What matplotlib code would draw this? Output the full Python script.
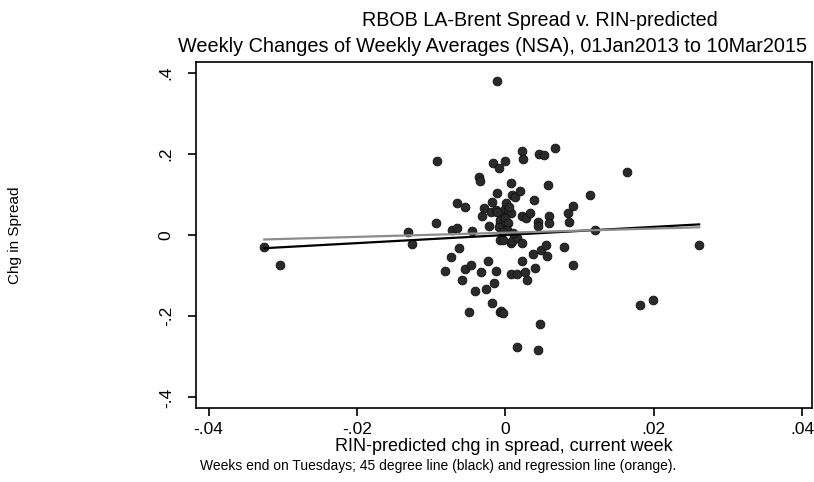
import matplotlib
matplotlib.use("Agg")
import matplotlib.pyplot as plt

plt.rcParams['font.family'] = ['Liberation Sans', 'DejaVu Sans']

pred_chg = [
    -0.0325, -0.0304, -0.0132, -0.0126, -0.0094, -0.0092, -0.0082, -0.0074,
    -0.0072, -0.0066, -0.0065, -0.0055, -0.0063, -0.0058, -0.0054, -0.0049,
    -0.0046, -0.0045, -0.0041, -0.0036, -0.0035, -0.0033, -0.0031, -0.0029,
    -0.0026, -0.0024, -0.0022, -0.0020, -0.0018, -0.0018, -0.0017, -0.0016,
    -0.0013, -0.0013, -0.0012, -0.0011, -0.0009, -0.0008, -0.0008, -0.0006,
    -0.0003, -0.0007, -0.0004, -0.0004, -0.0001, 0.0000, 0.0001, 0.0002,
    0.0004, 0.0007, 0.0007, 0.0007, 0.0008, 0.0009, 0.0009, 0.0013,
    0.0015, 0.0015, 0.0015, 0.0019, 0.0022, 0.0023, 0.0022, 0.0022,
    0.0022, 0.0026, 0.0029, 0.0027, 0.0033, 0.0037, 0.0038, 0.0040,
    0.0044, 0.0044, 0.0044, 0.0045, 0.0046, 0.0048, 0.0052, 0.0054,
    0.0056, 0.0057, 0.0058, 0.0059, 0.0067, 0.0079, 0.0084, 0.0085,
    0.0091, 0.0091, 0.0114, 0.0121, 0.0164, 0.0181, 0.0199, 0.0261,
    -0.0011, -0.0007, 0.0000, -0.0002, 0.0004, -0.0009, 0.0002, -0.0004,
    0.0010, 0.0005,
]
spread_chg = [
    -0.029, -0.075, 0.008, -0.023, 0.030, 0.182, -0.088, -0.055,
    0.012, 0.018, 0.078, 0.068, -0.031, -0.112, -0.084, -0.189,
    -0.075, 0.011, -0.137, 0.143, 0.133, -0.092, 0.046, 0.067,
    -0.133, -0.063, 0.023, 0.057, 0.082, -0.168, 0.177, -0.119,
    0.061, -0.088, 0.104, 0.380, 0.165, -0.012, -0.190, -0.188,
    -0.191, 0.029, 0.045, -0.012, 0.182, 0.065, 0.078, 0.029,
    0.061, 0.053, -0.020, -0.096, 0.129, 0.098, -0.016, 0.093,
    -0.096, -0.276, -0.008, 0.109, 0.206, 0.187, 0.047, -0.020,
    -0.063, -0.090, -0.110, 0.043, 0.053, -0.047, 0.086, -0.082,
    0.033, 0.023, -0.282, 0.200, -0.218, -0.038, 0.196, -0.025,
    -0.051, 0.124, 0.047, 0.029, 0.214, -0.030, 0.053, 0.031,
    0.072, -0.074, 0.098, 0.012, 0.155, -0.172, -0.161, -0.024,
    0.057, 0.037, 0.041, 0.025, 0.029, 0.020, 0.012, 0.008,
    0.004, 0.070,
]

# 45 degree line and regression line endpoints
line45_x = [-0.0325, 0.0261]
line45_y = [-0.0325, 0.0261]
reg_x = [-0.0325, 0.0261]
reg_y = [-0.011, 0.019]

xticks = [-0.04, -0.02, 0, 0.02, 0.04]
xtick_labels = ["-.04", "-.02", "0", ".02", ".04"]
yticks = [-0.4, -0.2, 0, 0.2, 0.4]
ytick_labels = ["-.4", "-.2", "0", ".2", ".4"]

fig = plt.figure(figsize=(8.14, 4.82), dpi=100)
ax = fig.add_axes([196 / 814, 74 / 482, 616 / 814, 346 / 482])

ax.scatter(pred_chg, spread_chg, s=40, color="#2a2a2a", edgecolors="#111111",
           linewidths=0.6, zorder=2)
ax.plot(line45_x, line45_y, color="black", linewidth=1.6, zorder=3)
ax.plot(reg_x, reg_y, color="#8c8c8c", linewidth=1.6, zorder=3)

ax.set_xlim(-0.0417, 0.0413)
ax.set_ylim(-0.426, 0.426)
ax.set_xticks(xticks)
ax.set_xticklabels(xtick_labels, fontsize=12.5)
ax.set_yticks(yticks)
ax.set_yticklabels(ytick_labels, fontsize=12.5, rotation=90, va="center")
ax.tick_params(direction="out", length=6, width=1.2)
ax.tick_params(axis="x", pad=4)
ax.tick_params(axis="y", pad=10)
for s in ax.spines.values():
    s.set_linewidth(1.2)

ax.set_xlabel("RIN-predicted chg in spread, current week", fontsize=13, labelpad=1)

fig.text(15 / 814, 1 - 235 / 482, "Chg in Spread", rotation=90, fontsize=11,
         ha="center", va="center")
fig.text(540 / 814, 1 - 20 / 482, "RBOB LA-Brent Spread v. RIN-predicted",
         fontsize=14.2, ha="center", va="center")
fig.text(492 / 814, 1 - 46 / 482,
         "Weekly Changes of Weekly Averages (NSA), 01Jan2013 to 10Mar2015",
         fontsize=14.3, ha="center", va="center")
fig.text(200 / 814, 1 - 466 / 482,
         "Weeks end on Tuesdays; 45 degree line (black) and regression line (orange).",
         fontsize=10, ha="left", va="center")

fig.savefig("out.png", dpi=100)
